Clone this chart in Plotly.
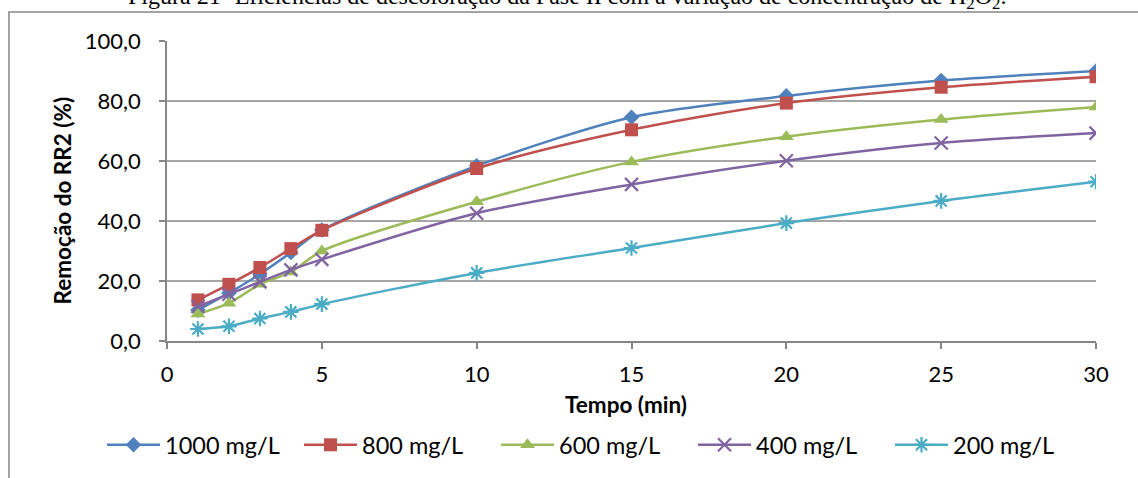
import plotly.graph_objects as go

tempo = [1, 2, 3, 4, 5, 10, 15, 20, 25, 30]
c1000 = [10.3, 16.0, 22.3, 29.5, 37.0, 58.4, 74.6, 81.7, 86.8, 90.0]
c800 = [13.7, 18.9, 24.5, 30.8, 36.9, 57.5, 70.4, 79.3, 84.6, 88.1]
c600 = [9.0, 12.6, 18.9, 23.0, 30.0, 46.4, 59.7, 68.1, 73.8, 78.0]
c400 = [11.5, 15.6, 19.7, 23.7, 27.2, 42.6, 52.2, 60.1, 66.0, 69.3]
c200 = [4.0, 4.9, 7.5, 9.7, 12.3, 22.7, 31.0, 39.3, 46.7, 53.1]
series_names = ["1000 mg/L", "800 mg/L", "600 mg/L", "400 mg/L", "200 mg/L"]
y_ticks = [0, 20, 40, 60, 80, 100]
x_ticks = [0, 5, 10, 15, 20, 25, 30]

colors = ["#4F81BD", "#C0504D", "#9BBB59", "#8064A2", "#4BACC6"]
symbols = ["diamond", "square", "triangle-up", "x-thin-open", "asterisk-open"]
sizes = [12, 13, 13, 13, 13]

W, H = 1138, 478
L, R, T, B = 167, W - 1096, 41, H - 342
PW, PH = W - L - R, H - T - B

def px(x):
    return (x - L) / PW

def py(y):
    return (H - B - y) / PH

fig = go.Figure()
for name, vals, col, sym, sz in zip(series_names, [c1000, c800, c600, c400, c200], colors, symbols, sizes):
    open_sym = sym.endswith("open")
    fig.add_trace(go.Scatter(
        x=tempo, y=vals, name=name, mode="lines+markers",
        line=dict(color=col, width=2.5, shape="spline", smoothing=0.8),
        marker=dict(symbol=sym, size=sz, color=col,
                    line=dict(color=col, width=2.2 if open_sym else 0)),
    ))

font_main = "Lato, Carlito, Calibri, sans-serif"
fig.update_layout(
    width=W, height=H,
    margin=dict(l=L, r=R, t=T, b=B),
    paper_bgcolor="white", plot_bgcolor="white",
    separators=",.",
    font=dict(family=font_main, size=22, color="black"),
    showlegend=True,
    legend=dict(orientation="h", x=px(102), xanchor="left", y=py(445), yanchor="middle",
                font=dict(size=23.5), itemwidth=53, entrywidth=129, entrywidthmode="pixels",
                bgcolor="rgba(0,0,0,0)"),
    xaxis=dict(range=[0, 30], tickvals=x_ticks, showgrid=False, zeroline=False,
               showline=True, linecolor="#868686", linewidth=1.5,
               ticks="outside", ticklen=6, tickcolor="#868686", tickwidth=1.5,
               ticklabelstandoff=7, tickfont=dict(size=22)),
    yaxis=dict(range=[0, 100], tickvals=y_ticks, tickformat=".1f", showgrid=True,
               gridcolor="#A6A6A6", gridwidth=1.5, zeroline=False,
               showline=True, linecolor="#868686", linewidth=1.5,
               ticks="outside", ticklen=6, tickcolor="#868686", tickwidth=1.5,
               ticklabelstandoff=14, tickfont=dict(size=22)),
    shapes=[dict(type="rect", xref="paper", yref="paper",
                 x0=px(9), x1=px(1300), y0=py(600), y1=py(12),
                 line=dict(color="#868686", width=1.5), layer="below")],
    annotations=[
        dict(text="Figura 21- Eficiências de descoloração da Fase II com a variação de concentração de H<sub>2</sub>O<sub>2</sub>.",
             xref="paper", yref="paper", x=px(567), y=py(-2), xanchor="center", yanchor="middle",
             showarrow=False, font=dict(family="Liberation Serif, Times New Roman, serif", size=24)),
        dict(text="<b>Remoção do RR2 (%)</b>", xref="paper", yref="paper",
             x=px(62), y=py(201), xanchor="center", yanchor="middle", textangle=-90,
             showarrow=False, font=dict(size=22.5)),
        dict(text="<b>Tempo (min)</b>", xref="paper", yref="paper",
             x=px(626), y=py(406), xanchor="center", yanchor="middle",
             showarrow=False, font=dict(size=22.5)),
    ],
)

fig.write_html("out.html")
